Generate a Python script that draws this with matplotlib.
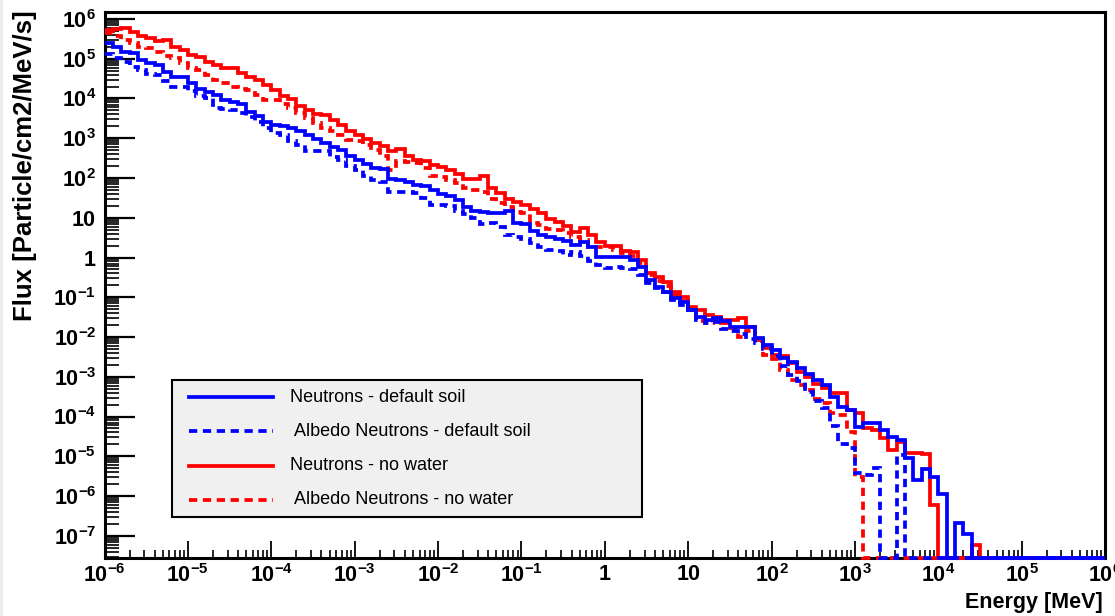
import numpy as np
import matplotlib
matplotlib.use("Agg")
import matplotlib.pyplot as plt
from matplotlib import font_manager, ticker
from matplotlib.lines import Line2D
from matplotlib.patches import Rectangle

# Energy binning: 10 logarithmic bins per decade, 1e-6 .. 1e6 MeV
e_lo_exp, e_hi_exp, n_bins = -6, 6, 120

# log10 of the flux per bin (particles/cm2/MeV/s); None marks an empty bin
log_flux_n_soil = [
    5.39, 5.29, 5.18, 5.14, 4.97, 4.89, 4.84, 4.66, 4.55, 4.55,
    4.38, 4.24, 4.17, 4.09, 3.95, 3.90, 3.85, 3.67, 3.57, 3.40,
    3.33, 3.31, 3.25, 3.17, 3.09, 2.99, 2.88, 2.79, 2.71, 2.56,
    2.46, 2.36, 2.25, 2.22, 1.97, 1.94, 1.89, 1.83, 1.80, 1.69,
    1.60, 1.55, 1.45, 1.28, 1.18, 1.15, 1.13, 1.13, 1.16, 0.86,
    0.84, 0.67, 0.57, 0.52, 0.46, 0.42, 0.31, 0.40, 0.26, 0.02,
    0.02, 0.02, 0.02, -0.06, -0.23, -0.57, -0.73, -0.86, -1.03, -1.11,
    -1.32, -1.49, -1.56, -1.53, -1.61, -1.74, -1.74, -1.74, -2.03, -2.20,
    -2.33, -2.54, -2.62, -2.79, -2.92, -3.08, -3.21, -3.50, -3.75, -3.84,
    -4.26, -4.17, -4.17, -4.34, -4.51, -4.60, -5.05, -5.60, -5.33, -5.51,
    -5.95, None, -6.69, -6.96, None, None, None, None, None, None,
    None, None, None, None, None, None, None, None, None, None,
]

log_flux_albedo_soil = [
    5.11, 5.01, 4.91, 4.80, 4.72, 4.62, 4.59, 4.45, 4.30, 4.30,
    4.19, 4.07, 4.00, 3.77, 3.74, 3.71, 3.63, 3.54, 3.42, 3.25,
    3.12, 3.09, 2.92, 2.84, 2.69, 2.69, 2.67, 2.54, 2.46, 2.31,
    2.19, 2.04, 1.95, 1.91, 1.66, 1.66, 1.64, 1.62, 1.49, 1.33,
    1.33, 1.30, 1.18, 1.09, 0.99, 0.84, 0.88, 0.76, 0.57, 0.52,
    0.46, 0.36, 0.26, 0.19, 0.17, 0.06, 0.15, 0.04, -0.10, -0.19,
    -0.26, -0.25, -0.27, -0.30, -0.45, -0.65, -0.77, -0.86, -1.08, -1.20,
    -1.33, -1.58, -1.66, -1.62, -1.80, -1.85, -1.93, -2.05, -2.15, -2.30,
    -2.48, -2.74, -2.95, -3.10, -3.38, -3.60, -3.79, -4.24, -4.68, -4.78,
    -5.43, -5.47, -5.30, None, None, -4.97, None, None, None, None,
    None, None, None, None, None, None, None, None, None, None,
    None, None, None, None, None, None, None, None, None, None,
]

log_flux_n_dry = [
    5.72, 5.75, 5.78, 5.68, 5.58, 5.51, 5.45, 5.47, 5.30, 5.22,
    5.09, 5.05, 4.93, 4.84, 4.76, 4.76, 4.63, 4.55, 4.47, 4.34,
    4.21, 4.07, 3.98, 3.82, 3.71, 3.61, 3.59, 3.46, 3.34, 3.17,
    3.09, 2.98, 2.88, 2.81, 2.69, 2.73, 2.56, 2.46, 2.42, 2.33,
    2.27, 2.21, 2.10, 1.97, 1.97, 2.05, 1.74, 1.63, 1.46, 1.40,
    1.32, 1.21, 1.11, 0.96, 0.90, 0.79, 0.65, 0.73, 0.57, 0.40,
    0.29, 0.29, 0.17, 0.15, -0.06, -0.40, -0.48, -0.61, -0.86, -0.99,
    -1.24, -1.32, -1.45, -1.50, -1.56, -1.57, -1.53, -1.74, -2.07, -2.28,
    -2.45, -2.49, -2.66, -2.87, -3.00, -3.17, -3.29, -3.42, -3.42, -3.84,
    -3.90, -4.30, -4.34, -4.55, -4.84, -4.63, -4.93, -4.93, -4.95, -6.23,
    None, None, None, None, -7.23, None, None, None, None, None,
    None, None, None, None, None, None, None, None, None, None,
]

log_flux_albedo_dry = [
    5.64, 5.56, 5.47, 5.39, 5.30, 5.26, 5.18, 5.08, 5.01, 4.89,
    4.76, 4.72, 4.59, 4.47, 4.38, 4.30, 4.25, 4.21, 4.09, 3.96,
    3.95, 3.87, 3.76, 3.63, 3.51, 3.38, 3.25, 3.17, 3.09, 2.96,
    2.92, 2.83, 2.71, 2.56, 2.21, 2.44, 2.39, 2.37, 2.25, 2.04,
    2.02, 1.95, 1.87, 1.74, 1.70, 1.66, 1.46, 1.38, 1.28, 1.15,
    1.11, 0.86, 0.82, 0.72, 0.69, 0.61, 0.51, 0.44, 0.27, 0.26,
    0.27, 0.19, 0.12, 0.05, -0.15, -0.45, -0.60, -0.72, -0.95, -1.10,
    -1.30, -1.60, -1.64, -1.58, -1.65, -1.78, -1.99, -1.85, -2.10, -2.45,
    -2.55, -2.83, -3.08, -3.20, -3.34, -3.55, -3.65, -3.92, -3.96, -4.38,
    -5.51, None, None, None, None, None, None, None, None, None,
    None, None, None, None, None, None, None, None, None, None,
    None, None, None, None, None, None, None, None, None, None,
]

legend_labels = [
    "Neutrons - default soil",
    " Albedo Neutrons - default soil",
    "Neutrons - no water",
    " Albedo Neutrons - no water",
]

x_tick_exps = list(range(-6, 7))
x_tick_labels = ["10^{-6}", "10^{-5}", "10^{-4}", "10^{-3}", "10^{-2}", "10^{-1}",
                 "1", "10", "10^{2}", "10^{3}", "10^{4}", "10^{5}", "10^{6}"]
y_tick_exps = list(range(-7, 7))
y_tick_labels = ["10^{-7}", "10^{-6}", "10^{-5}", "10^{-4}", "10^{-3}", "10^{-2}",
                 "10^{-1}", "1", "10", "10^{2}", "10^{3}", "10^{4}", "10^{5}", "10^{6}"]

# --- fonts: narrow Helvetica look if available -------------------------------
installed = {f.name for f in font_manager.fontManager.ttflist}
if "Liberation Sans Narrow" in installed:
    narrow = "Liberation Sans Narrow"
    tick_fs, leg_fs, xlab_fs = 17, 15, 17.5
else:
    narrow = "Liberation Sans"
    tick_fs, leg_fs, xlab_fs = 15.5, 13, 15.5

plt.rcParams["font.family"] = [narrow, "DejaVu Sans"]
plt.rcParams["mathtext.fontset"] = "custom"
plt.rcParams["mathtext.rm"] = narrow
plt.rcParams["mathtext.bf"] = narrow + ":bold"
plt.rcParams["mathtext.it"] = narrow + ":italic"

W, H = 1115, 616
fig = plt.figure(figsize=(W / 100, H / 100), dpi=100)
fig.patch.set_facecolor("white")
fig.patches.append(Rectangle((0, 0), 3 / W, 1, transform=fig.transFigure,
                             facecolor="#ececec", edgecolor="none"))

ax_l, ax_r, ax_t, ax_b = 104.5, 1105.0, 12.0, 557.5
ax = fig.add_axes([ax_l / W, 1 - ax_b / H, (ax_r - ax_l) / W, (ax_b - ax_t) / H])
ax.set_xscale("log")
ax.set_yscale("log")
ax.set_xlim(10.0 ** e_lo_exp, 10.0 ** e_hi_exp)
ax.set_ylim(10 ** -7.547, 10 ** 6.176)
floor = ax.get_ylim()[0]

edges = np.logspace(e_lo_exp, e_hi_exp, n_bins + 1)
lw = 2.7
dash = (0, (2.2, 1.5))

series = [
    (log_flux_albedo_dry, "#ff0000", dash, 3.0),
    (log_flux_n_dry, "#ff0000", "-", 3.1),
    (log_flux_albedo_soil, "#0000ff", dash, 3.2),
    (log_flux_n_soil, "#0000ff", "-", 3.3),
]
for logs, col, ls, z in series:
    # empty bins sit on the lower frame edge, as in a ROOT log histogram
    flux = np.array([floor if v is None else 10.0 ** v for v in logs])
    ax.stairs(flux, edges, baseline=None, color=col, linewidth=lw,
              linestyle=ls, zorder=z, clip_on=False)

# --- axes styling -------------------------------------------------------------
for sp in ax.spines.values():
    sp.set_linewidth(2.2)

ax.xaxis.set_major_locator(ticker.FixedLocator([10.0 ** e for e in x_tick_exps]))
ax.xaxis.set_major_formatter(ticker.FixedFormatter(
    [r"$\mathbf{%s}$" % s for s in x_tick_labels]))
ax.yaxis.set_major_locator(ticker.FixedLocator([10.0 ** e for e in y_tick_exps]))
ax.yaxis.set_major_formatter(ticker.FixedFormatter(
    [r"$\mathbf{%s}$" % s for s in y_tick_labels]))
for axis in (ax.xaxis, ax.yaxis):
    axis.set_minor_locator(ticker.LogLocator(base=10, subs=np.arange(2, 10), numticks=200))
    axis.set_minor_formatter(ticker.NullFormatter())

ax.tick_params(axis="both", which="both", direction="in", top=False, right=False,
               labelsize=tick_fs, colors="black")
ax.tick_params(axis="y", which="major", length=21.5, width=1.6, pad=6)
ax.tick_params(axis="y", which="minor", length=10, width=1.2)
ax.tick_params(axis="x", which="major", length=12, width=1.3, pad=5)
ax.tick_params(axis="x", which="minor", length=5.5, width=1.2)

# --- axis titles --------------------------------------------------------------
fig.text(1103 / W, 1 - 608 / H, "Energy [MeV]", ha="right", va="baseline",
         fontsize=xlab_fs, fontweight="bold", family=[narrow, "DejaVu Sans"])
fig.text(25 / W, 1 - 10 / H, "Flux [Particle/cm2/MeV/s]", rotation=90,
         ha="center", va="top", fontsize=18.5, fontweight="bold",
         family=["Liberation Sans", "DejaVu Sans"])

# --- legend box ---------------------------------------------------------------
def ax_x(px):
    return (px - ax_l) / (ax_r - ax_l)

def ax_y(py):
    return (ax_b - py) / (ax_b - ax_t)

box = Rectangle((ax_x(172), ax_y(517)), ax_x(642) - ax_x(172), ax_y(380) - ax_y(517),
                transform=ax.transAxes, facecolor="#f0f0f0", edgecolor="black",
                linewidth=1.5, zorder=5)
ax.add_patch(box)
legend_styles = [("#0000ff", "-"), ("#0000ff", dash), ("#ff0000", "-"), ("#ff0000", dash)]
for (col, ls), label, py in zip(legend_styles, legend_labels, [397, 431, 466, 500]):
    ax.add_line(Line2D([ax_x(189), ax_x(273)], [ax_y(py), ax_y(py)],
                       transform=ax.transAxes, color=col, linewidth=lw,
                       linestyle=ls, zorder=6))
    ax.text(ax_x(290), ax_y(py), label, transform=ax.transAxes, ha="left",
            va="center", fontsize=leg_fs, zorder=6)

fig.savefig("out.png", dpi=100)
